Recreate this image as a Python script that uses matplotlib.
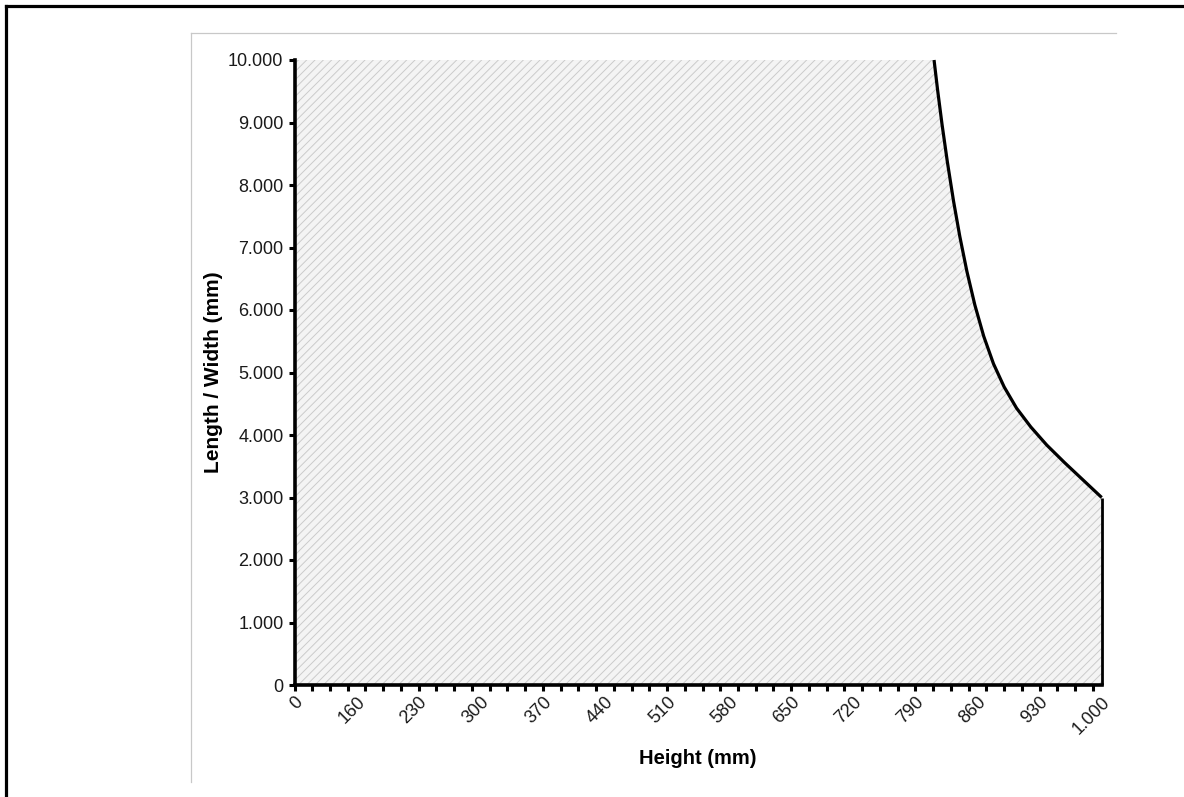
import numpy as np
import matplotlib
matplotlib.use("Agg")
import matplotlib.pyplot as plt
from matplotlib.lines import Line2D

plt.rcParams['font.family'] = ['Liberation Sans', 'DejaVu Sans']
plt.rcParams['hatch.linewidth'] = 0.7

# ---- data ----
x_tick_values = [0, 160, 230, 300, 370, 440, 510, 580, 650, 720, 790, 860, 930, 1000]
y_tick_values = [0, 1000, 2000, 3000, 4000, 5000, 6000, 7000, 8000, 9000, 10000]
# limit curve: height (mm) -> max length/width (mm)
curve_height = [811, 815, 820, 826, 833, 840, 848, 857, 867, 878, 890, 904, 920, 938, 958, 979, 1000]
curve_length = [10000, 9520, 8970, 8370, 7740, 7180, 6620, 6080, 5580, 5140, 4770, 4430, 4130,
                3840, 3560, 3280, 3000]
# allowed area starts at height 0 with the 10.000 cap
area_height = [0] + curve_height
area_length = [10000] + curve_length

x_label = "Height (mm)"
y_label = "Length / Width (mm)"


def dotfmt(v):
    return f"{v:,.0f}".replace(",", ".")


# category-style axis: 0, then 100, 110, ... 1000 equally spaced
def fwd(h):
    h = np.asarray(h, dtype=float)
    return np.where(h <= 100, h / 100.0, (h - 90.0) / 10.0)


def inv(i):
    i = np.asarray(i, dtype=float)
    return np.where(i <= 1, i * 100.0, i * 10.0 + 90.0)


W, H = 1184, 797
fig = plt.figure(figsize=(W / 100, H / 100), dpi=100)
fig.patch.set_facecolor('white')

# outer frame (top and left) and inner light frame
fig.add_artist(Line2D([6 / W, 1.0], [1 - 5.5 / H, 1 - 5.5 / H], color='black', lw=2.3,
                      transform=fig.transFigure))
fig.add_artist(Line2D([6 / W, 6 / W], [0, 1 - 5.5 / H], color='black', lw=2.3,
                      transform=fig.transFigure))
fig.add_artist(Line2D([191 / W, 1116 / W], [1 - 33 / H, 1 - 33 / H], color='#c8c8c8', lw=0.9,
                      transform=fig.transFigure))
fig.add_artist(Line2D([191 / W, 191 / W], [1 - 33 / H, 1 - 782 / H], color='#c8c8c8', lw=0.9,
                      transform=fig.transFigure))

ax = fig.add_axes([294.5 / W, 1 - 685 / H, (1101.7 - 294.5) / W, (685 - 60) / H])
ax.set_xscale('function', functions=(fwd, inv))
ax.set_xlim(0, 1000)
ax.set_ylim(0, 10000)

ax.fill_between(area_height, 0, area_length, facecolor='#f4f4f4', edgecolor='#cbcbcb',
                hatch='////', linewidth=0, zorder=1)
ax.plot(curve_height, curve_length, color='black', lw=2.3, solid_capstyle='butt',
        solid_joinstyle='round', zorder=3, clip_on=False)
ax.vlines(curve_height[-1], 0, curve_length[-1], color='black', lw=2.0, zorder=3, clip_on=False)

for s in ['top', 'right']:
    ax.spines[s].set_visible(False)
for s in ['left', 'bottom']:
    ax.spines[s].set_linewidth(2.6)
    ax.spines[s].set_zorder(4)

ax.set_yticks(y_tick_values)
ax.set_yticklabels([dotfmt(v) for v in y_tick_values], fontsize=13, color='#1a1a1a')
ax.tick_params(axis='y', length=4, width=2.2, direction='out', pad=4)

# small ticks every second category, labels every seventh category
ax.xaxis.remove_overlapping_locs = False
minor_idx = np.arange(0, 91, 2)
ax.set_xticks(inv(minor_idx), minor=True)
ax.set_xticks(x_tick_values)
ax.set_xticklabels([dotfmt(v) for v in x_tick_values], fontsize=13, color='#1a1a1a',
                   rotation=45, ha='right', va='top', rotation_mode='anchor')
ax.tick_params(axis='x', which='major', length=0, pad=6)
ax.tick_params(axis='x', which='minor', length=4, width=2.2, direction='out')

ax.set_xlabel(x_label, fontsize=14.5, fontweight='bold')
ax.xaxis.set_label_coords(0.5, -0.102)
ax.set_ylabel(y_label, fontsize=15, fontweight='bold')
ax.yaxis.set_label_coords(-0.089, 0.5)
ax.set_facecolor('white')

fig.savefig('out.png', dpi=100)
